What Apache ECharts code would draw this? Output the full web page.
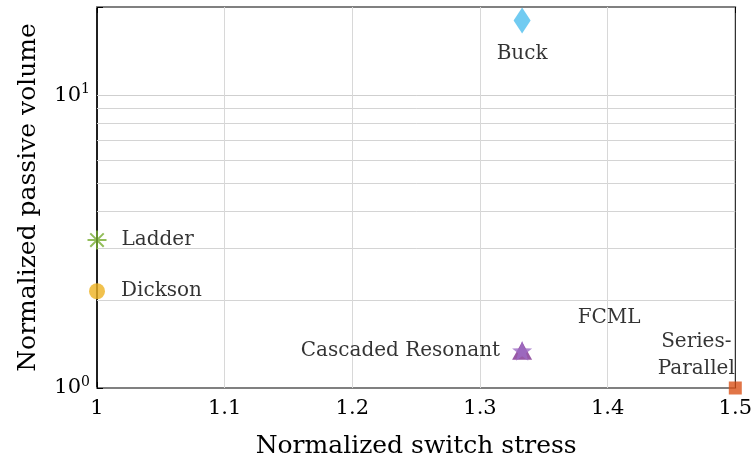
<!DOCTYPE html>
<html><head><meta charset="utf-8">
<script src="https://cdn.jsdelivr.net/npm/echarts@6/dist/echarts.min.js"></script>
<style>html,body{margin:0;padding:0;background:#fff}#c{width:755px;height:464px}</style>
</head><body><div id="c"></div>
<script>
var converters = ['Buck','Ladder','Dickson','Cascaded Resonant','FCML','Series-Parallel'];
var switchStress = [1.333, 1.0, 1.0, 1.333, 1.333, 1.5];
var passiveVolume = [18.0, 3.2, 2.14, 1.34, 1.34, 1.0];
var xTicks = [1, 1.1, 1.2, 1.3, 1.4, 1.5];
var yMinorGrid = [2,3,4,5,6,7,8,9];
var yMajorGrid = [10];
var xGrid = [1.1, 1.2, 1.3, 1.4];

var F = 'DejaVu Serif';
var asterisk = 'path://M0,-10L0,10M-10,0L10,0M-7.07,-7.07L7.07,7.07M-7.07,7.07L7.07,-7.07';
var star = 'path://M0,-10L2.35,-3.24L9.51,-3.09L3.8,1.24L5.88,8.09L0,4L-5.88,8.09L-3.8,1.24L-9.51,-3.09L-2.35,-3.24Z';

function pt(i){ return [switchStress[i], passiveVolume[i]]; }
var lbl = {fontFamily:F, fontSize:20, color:'#000'};

var series = [
  {type:'scatter', name:'grid', data:[], silent:true, z:1,
   markLine:{silent:true, symbol:'none', label:{show:false}, animation:false,
     data: yMinorGrid.map(function(v){return {yAxis:v, lineStyle:{color:'#d4d4d4',width:1,type:'solid'}};})
       .concat(yMajorGrid.map(function(v){return {yAxis:v, lineStyle:{color:'#cfcfcf',width:1,type:'solid'}};}))
       .concat(xGrid.map(function(v){return {xAxis:v, lineStyle:{color:'#d8d8d8',width:1,type:'solid'}};}))}},
  {type:'scatter', name:converters[0], data:[pt(0)], symbol:'diamond', symbolSize:[17,26],
   itemStyle:{color:'#4DBEEE'}, z:5,
   label:Object.assign({show:true, position:'bottom', distance:10, formatter:converters[0]}, lbl)},
  {type:'scatter', name:converters[1], data:[pt(1)], symbol:asterisk, symbolSize:19,
   itemStyle:{color:'transparent', borderColor:'#77AC30', borderWidth:2}, z:5,
   label:Object.assign({show:true, position:'right', distance:14, formatter:converters[1]}, lbl)},
  {type:'scatter', name:converters[2], data:[pt(2)], symbol:'circle', symbolSize:16,
   itemStyle:{color:'#EDB120'}, z:5,
   label:Object.assign({show:true, position:'right', distance:16, formatter:converters[2]}, lbl)},
  {type:'scatter', name:converters[3], data:[pt(3)], symbol:'triangle', symbolSize:[20,18],
   itemStyle:{color:'#7E2F8E'}, z:5,
   label:Object.assign({show:true, position:'left', distance:12, formatter:converters[3]}, lbl)},
  {type:'scatter', name:converters[4], data:[pt(4)], symbol:star, symbolSize:20,
   itemStyle:{color:'#9D6CC4'}, z:6,
   label:Object.assign({show:true, position:'top', offset:[87,-8], formatter:converters[4]}, lbl)},
  {type:'scatter', name:converters[5], data:[pt(5)], symbol:'rect', symbolSize:13,
   itemStyle:{color:'#D95319'}, z:5,
   label:Object.assign({show:true, position:'top', offset:[-39,6], align:'center', lineHeight:27, formatter:'Series-\nParallel'}, lbl)}
];

var chart = echarts.init(document.getElementById('c'), null, {renderer:'canvas'});
chart.setOption({
  animation:false,
  backgroundColor:'#fff',
  grid:{left:97, right:17, top:7, bottom:76, show:true, borderColor:'#000', borderWidth:1, backgroundColor:'transparent'},
  xAxis:[{type:'value', min:1, max:1.5, interval:0.1, position:'bottom',
    axisLine:{show:true, onZero:false, lineStyle:{color:'#808080', width:2}},
    axisTick:{show:true, inside:true, length:6, lineStyle:{color:'#000', width:1}},
    axisLabel:{fontFamily:F, fontSize:21, color:'#000', margin:10,
      formatter:function(v){ var t = xTicks.filter(function(k){return Math.abs(k-v)<1e-9;}); return t.length? String(t[0]) : ''; }},
    splitLine:{show:false},
    name:'Normalized switch stress', nameLocation:'middle', nameGap:46,
    nameTextStyle:{fontFamily:F, fontSize:25, color:'#000'}},
   {type:'value', min:1, max:1.5, interval:0.1, position:'top',
    axisLine:{show:true, onZero:false, lineStyle:{color:'#808080', width:2}},
    axisTick:{show:true, inside:true, length:6, lineStyle:{color:'#000', width:1}},
    axisLabel:{show:false}, splitLine:{show:false}}],
  yAxis:[{type:'log', logBase:10, min:1, max:20,
    axisLine:{show:true, onZero:false, lineStyle:{color:'#000', width:1.5}},
    axisTick:{show:true, inside:true, length:6, lineStyle:{color:'#000'}},
    minorTick:{show:false},
    splitLine:{show:false},
    axisLabel:{margin:7, formatter:function(v){ if(Math.abs(v-1)<1e-9) return '{b|10}{s|0}'; if(Math.abs(v-10)<1e-9) return '{b|10}{s|1}'; return ''; },
      rich:{b:{fontFamily:F, fontSize:21, color:'#000'}, s:{fontFamily:F, fontSize:14, color:'#000', padding:[0,0,12,0]}}},
    name:'Normalized passive volume', nameLocation:'middle', nameGap:56, nameRotate:90,
    nameTextStyle:{fontFamily:F, fontSize:25, color:'#000'}}],
  series: series
});
</script></body></html>
